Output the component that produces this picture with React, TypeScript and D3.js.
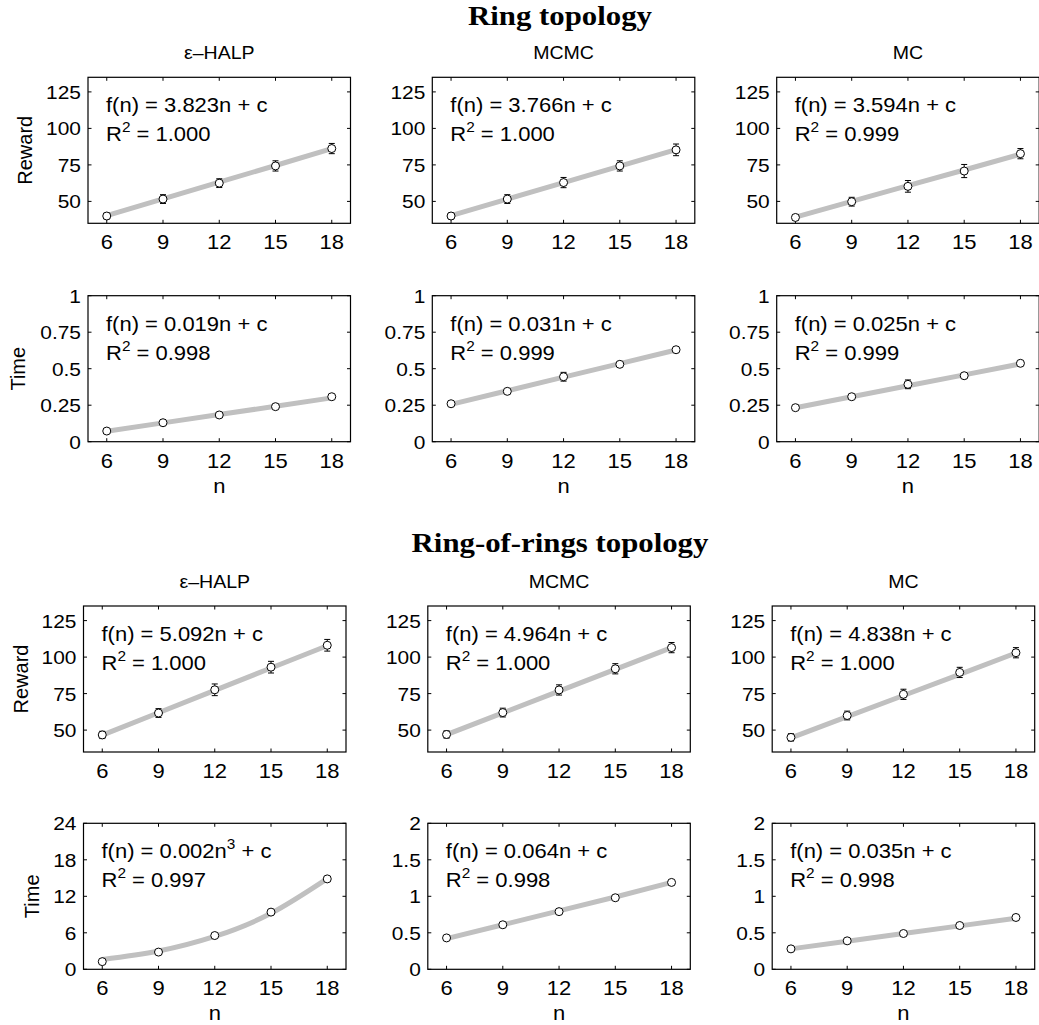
import React from "react";
import * as d3 from "d3";

// ---------- data ----------
const nValues = [6, 9, 12, 15, 18];
const methods = ["ε–HALP", "MCMC", "MC"];
const sectionTitles = ["Ring topology", "Ring-of-rings topology"];

// Ring topology – reward
const ringRewardHalp = [40, 51.6, 62.5, 74.3, 86.2];
const ringRewardHalpErr = [2, 3, 3, 3.5, 3.5];
const ringRewardHalpFit = [40.2, 51.7, 63.2, 74.6, 86.1];
const ringRewardMcmc = [40, 51.6, 62.9, 74.3, 85.3];
const ringRewardMcmcErr = [2, 3, 3.5, 3.5, 4];
const ringRewardMcmcFit = [40.3, 51.6, 62.9, 74.2, 85.5];
const ringRewardMc = [39, 49.8, 60.3, 70.8, 82.7];
const ringRewardMcErr = [2, 3, 4, 4.5, 3.5];
const ringRewardMcFit = [39.2, 50, 60.8, 71.5, 82.3];

// Ring topology – time
const ringTimeHalp = [0.073, 0.13, 0.183, 0.24, 0.308];
const ringTimeHalpErr = [0.005, 0.005, 0.008, 0.008, 0.008];
const ringTimeHalpFit = [0.072, 0.129, 0.186, 0.243, 0.3];
const ringTimeMcmc = [0.26, 0.345, 0.445, 0.53, 0.63];
const ringTimeMcmcErr = [0.008, 0.01, 0.03, 0.01, 0.01];
const ringTimeMcmcFit = [0.256, 0.349, 0.442, 0.535, 0.628];
const ringTimeMc = [0.233, 0.308, 0.393, 0.452, 0.537];
const ringTimeMcErr = [0.008, 0.01, 0.03, 0.01, 0.01];
const ringTimeMcFit = [0.233, 0.308, 0.383, 0.458, 0.533];

// Ring-of-rings – reward
const rorRewardHalp = [46.7, 61.7, 77.6, 93.1, 108.1];
const rorRewardHalpErr = [2.5, 3, 4, 4, 4];
const rorRewardHalpFit = [46.6, 61.9, 77.2, 92.5, 107.8];
const rorRewardMcmc = [47, 62, 77.5, 92, 106.5];
const rorRewardMcmcErr = [2.5, 3, 3.5, 3.5, 3.5];
const rorRewardMcmcFit = [46.9, 61.8, 76.7, 91.6, 106.5];
const rorRewardMc = [45, 60, 74.5, 89.5, 103];
const rorRewardMcErr = [2.5, 3, 3.5, 3.5, 3.5];
const rorRewardMcFit = [44.7, 59.2, 73.7, 88.2, 102.8];

// Ring-of-rings – time
const rorTimeHalp = [1.26, 2.83, 5.55, 9.4, 14.86];
const rorTimeHalpErr = [0.1, 0.1, 0.15, 0.2, 0.2];
const rorTimeHalpFit = [1.6, 3.0, 5.4, 9.2, 14.9];
const rorTimeMcmc = [0.43, 0.61, 0.79, 0.98, 1.19];
const rorTimeMcmcErr = [0.01, 0.01, 0.015, 0.015, 0.015];
const rorTimeMcmcFit = [0.42, 0.61, 0.8, 0.99, 1.19];
const rorTimeMc = [0.28, 0.39, 0.49, 0.6, 0.71];
const rorTimeMcErr = [0.01, 0.01, 0.01, 0.01, 0.01];
const rorTimeMcFit = [0.28, 0.385, 0.49, 0.595, 0.7];

// Fit annotations
const ringRewardCoef = ["3.823", "3.766", "3.594"];
const ringRewardR2 = ["1.000", "1.000", "0.999"];
const ringTimeCoef = ["0.019", "0.031", "0.025"];
const ringTimeR2 = ["0.998", "0.999", "0.999"];
const rorRewardCoef = ["5.092", "4.964", "4.838"];
const rorRewardR2 = ["1.000", "1.000", "1.000"];
const rorTimeCoef = ["0.002", "0.064", "0.035"];
const rorTimeR2 = ["0.997", "0.998", "0.998"];
const rorTimePower = ["3", "", ""];

// Axes
const xDomain = [5, 19];
const rewardDomain = [35, 135];
const rewardTicks = [50, 75, 100, 125];
const ringTimeDomain = [0, 1];
const ringTimeTicks = [0, 0.25, 0.5, 0.75, 1];
const rorTimeHalpDomain = [0, 24];
const rorTimeHalpTicks = [0, 6, 12, 18, 24];
const rorTimeDomain = [0, 2];
const rorTimeTicks = [0, 0.5, 1, 1.5, 2];

// ---------- layout ----------
const W = 1039;
const H = 1025;
const PW = 262.5;
const PH = 146;
const colLeft = [88, 432.3, 776.7];
const rowTop = [77.3, 295.7, 606, 823.3];
const rowShift = [0, 0, -4.5, -4.5];
const SX = 1.1; // horizontal text stretch of the reference

const FONT = "'Liberation Sans', Arial, Helvetica, sans-serif";

type PanelSpec = {
  vals: number[];
  err: number[];
  fit: number[];
  domain: number[];
  ticks: number[];
  coef: string;
  power: string;
  r2: string;
  curved: boolean;
};

function T({ x, y, size, anchor = "start", children, family = FONT, weight = "normal", sx = SX }: any) {
  return (
    <text
      transform={`translate(${x},${y}) scale(${sx},1)`}
      fontSize={size}
      fontFamily={family}
      fontWeight={weight}
      textAnchor={anchor}
      fill="#000"
    >
      {children}
    </text>
  );
}

function Panel({ left, top, spec, showX }: { left: number; top: number; spec: PanelSpec; showX: boolean }) {
  const x = d3.scaleLinear().domain(xDomain).range([left, left + PW]);
  const y = d3.scaleLinear().domain(spec.domain).range([top + PH, top]);
  const line = d3
    .line<number>()
    .x((_, i) => x(nValues[i]))
    .y((d) => y(d))
    .curve(spec.curved ? d3.curveNatural : d3.curveLinear);
  const bottom = top + PH;
  const tl = 3.5;
  return (
    <g>
      {nValues.map((n) => (
        <g key={"xt" + n}>
          <line x1={x(n)} x2={x(n)} y1={bottom} y2={bottom - tl} stroke="#000" strokeWidth={1} />
          <line x1={x(n)} x2={x(n)} y1={top} y2={top + tl} stroke="#000" strokeWidth={1} />
          <T x={x(n)} y={bottom + 26} size={20} anchor="middle">{String(n)}</T>
        </g>
      ))}
      {spec.ticks.map((t) => (
        <g key={"yt" + t}>
          <line x1={left} x2={left + tl} y1={y(t)} y2={y(t)} stroke="#000" strokeWidth={1} />
          <line x1={left + PW} x2={left + PW - tl} y1={y(t)} y2={y(t)} stroke="#000" strokeWidth={1} />
          <T x={left - 7} y={y(t) + 7} size={19} anchor="end">{String(t)}</T>
        </g>
      ))}
      <path d={line(spec.fit) || ""} fill="none" stroke="#c0c0c0" strokeWidth={5} />
      {spec.vals.map((v, i) => {
        const cx = x(nValues[i]);
        const y1 = y(v - spec.err[i]);
        const y2 = y(v + spec.err[i]);
        return (
          <g key={"p" + i}>
            <line x1={cx} x2={cx} y1={y1} y2={y2} stroke="#000" strokeWidth={1} />
            <line x1={cx - 3} x2={cx + 3} y1={y1} y2={y1} stroke="#000" strokeWidth={1} />
            <line x1={cx - 3} x2={cx + 3} y1={y2} y2={y2} stroke="#000" strokeWidth={1} />
            <circle cx={cx} cy={y(v)} r={4} fill="#fff" stroke="#000" strokeWidth={1} />
          </g>
        );
      })}
      <rect x={left} y={top} width={PW} height={PH} fill="none" stroke="#000" strokeWidth={1.2} />
      <text transform={`translate(${left + 18},${top + 35}) scale(${SX},1)`} fontSize={20} fontFamily={FONT}>
        {`f(n) = ${spec.coef}n`}
        {spec.power ? <tspan fontSize={14} dy={-9}>{spec.power}</tspan> : null}
        {spec.power ? <tspan dy={9}>{" + c"}</tspan> : <tspan>{" + c"}</tspan>}
      </text>
      <text transform={`translate(${left + 18},${top + 64}) scale(${SX},1)`} fontSize={20} fontFamily={FONT}>
        R<tspan fontSize={14} dy={-9}>2</tspan>
        <tspan dy={9}>{` = ${spec.r2}`}</tspan>
      </text>
      {showX ? <T x={left + PW / 2} y={bottom + 51} size={20} anchor="middle">n</T> : null}
    </g>
  );
}

function mk(vals: number[], err: number[], fit: number[], domain: number[], ticks: number[], coef: string, r2: string, power = "", curved = false): PanelSpec {
  return { vals, err, fit, domain, ticks, coef, r2, power, curved };
}

export default function App() {
  const rows: PanelSpec[][] = [
    [
      mk(ringRewardHalp, ringRewardHalpErr, ringRewardHalpFit, rewardDomain, rewardTicks, ringRewardCoef[0], ringRewardR2[0]),
      mk(ringRewardMcmc, ringRewardMcmcErr, ringRewardMcmcFit, rewardDomain, rewardTicks, ringRewardCoef[1], ringRewardR2[1]),
      mk(ringRewardMc, ringRewardMcErr, ringRewardMcFit, rewardDomain, rewardTicks, ringRewardCoef[2], ringRewardR2[2]),
    ],
    [
      mk(ringTimeHalp, ringTimeHalpErr, ringTimeHalpFit, ringTimeDomain, ringTimeTicks, ringTimeCoef[0], ringTimeR2[0]),
      mk(ringTimeMcmc, ringTimeMcmcErr, ringTimeMcmcFit, ringTimeDomain, ringTimeTicks, ringTimeCoef[1], ringTimeR2[1]),
      mk(ringTimeMc, ringTimeMcErr, ringTimeMcFit, ringTimeDomain, ringTimeTicks, ringTimeCoef[2], ringTimeR2[2]),
    ],
    [
      mk(rorRewardHalp, rorRewardHalpErr, rorRewardHalpFit, rewardDomain, rewardTicks, rorRewardCoef[0], rorRewardR2[0]),
      mk(rorRewardMcmc, rorRewardMcmcErr, rorRewardMcmcFit, rewardDomain, rewardTicks, rorRewardCoef[1], rorRewardR2[1]),
      mk(rorRewardMc, rorRewardMcErr, rorRewardMcFit, rewardDomain, rewardTicks, rorRewardCoef[2], rorRewardR2[2]),
    ],
    [
      mk(rorTimeHalp, rorTimeHalpErr, rorTimeHalpFit, rorTimeHalpDomain, rorTimeHalpTicks, rorTimeCoef[0], rorTimeR2[0], rorTimePower[0], true),
      mk(rorTimeMcmc, rorTimeMcmcErr, rorTimeMcmcFit, rorTimeDomain, rorTimeTicks, rorTimeCoef[1], rorTimeR2[1], rorTimePower[1]),
      mk(rorTimeMc, rorTimeMcErr, rorTimeMcFit, rorTimeDomain, rorTimeTicks, rorTimeCoef[2], rorTimeR2[2], rorTimePower[2]),
    ],
  ];
  const yLabels = ["Reward", "Time", "Reward", "Time"];
  const yLabelX = [25, 17.5, 20.5, 31.5];
  const titleBase = [24.5, 552];

  return (
    <svg width={W} height={H} style={{ position: "absolute", left: 0, top: 0, background: "#fff" }}>
      <rect x={0} y={0} width={W} height={H} fill="#fff" />
      {sectionTitles.map((t, i) => (
        <T key={t} x={560} y={titleBase[i]} size={28} anchor="middle" family="'Liberation Serif', 'Times New Roman', serif" weight="bold">
          {t}
        </T>
      ))}
      {rows.map((row, r) => (
        <g key={"r" + r}>
          {row.map((spec, c) => (
            <Panel key={c} left={colLeft[c] + rowShift[r]} top={rowTop[r]} spec={spec} showX={r % 2 === 1} />
          ))}
          {r % 2 === 0
            ? methods.map((m, c) => (
                <T key={m} x={colLeft[c] + rowShift[r] + PW / 2} y={rowTop[r] - 18} size={19} sx={1.03} anchor="middle">
                  {m}
                </T>
              ))
            : null}
          <text
            transform={`translate(${yLabelX[r] + 7},${rowTop[r] + PH / 2}) rotate(-90)`}
            fontSize={20}
            fontFamily={FONT}
            textAnchor="middle"
          >
            {yLabels[r]}
          </text>
        </g>
      ))}
    </svg>
  );
}
